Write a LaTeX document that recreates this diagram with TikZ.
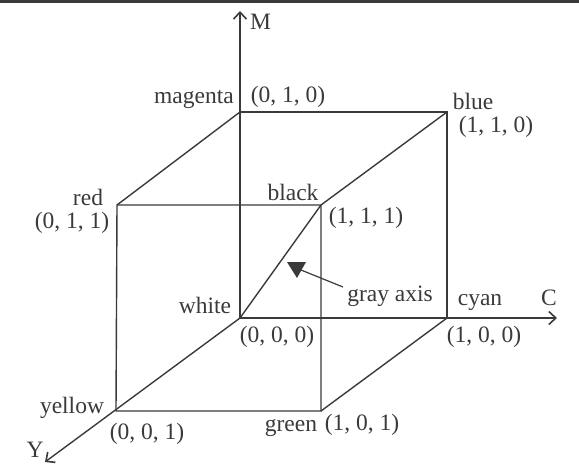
\documentclass[tikz,border=0pt]{standalone}
\usepackage{fontspec}
\setmainfont{Liberation Serif}
\usetikzlibrary{arrows.meta}
\definecolor{ink}{HTML}{3A3A3A}
\tikzset{
  edge/.style={draw=ink,line width=1.4pt},
  axis/.style={edge,-{Straight Barb[length=7pt,width=13pt,line width=1.6pt]}},
  lbl/.style={text=ink,inner sep=0pt,font=\fontsize{23.5}{26}\selectfont},
}
\begin{document}
\begin{tikzpicture}[x=1pt,y=-1pt]
\useasboundingbox (0,0) rectangle (579,469);
\fill[ink] (0,0) rectangle (579,2.5);
% vertices
\coordinate (O) at (240,318);
\coordinate (Mg) at (240,112);
\coordinate (Bl) at (447,112);
\coordinate (Cy) at (447,318);
\coordinate (Rd) at (117,205);
\coordinate (Bk) at (321,205);
\coordinate (Gr) at (321,411);
\coordinate (Ye) at (116,411);
\coordinate (Mt) at (240,11);
\coordinate (Ct) at (557,318);
\coordinate (Yt) at (45,462);
% axes
\draw[axis] (O) -- (Mt);
\draw[axis] (O) -- (Ct);
\draw[axis] (O) -- (Yt);
% cube
\draw[edge] (Mg) -- (Bl) -- (Cy);
\draw[edge] (Rd) -- (Bk) -- (Gr) -- (Ye) -- cycle;
\draw[edge] (Mg) -- (Rd);
\draw[edge] (Bl) -- (Bk);
\draw[edge] (Cy) -- (Gr);
\draw[edge] (O) -- (Bk);
% labels
\node[lbl,anchor=west] (lM) at (250,22) {M};
\node[lbl,anchor=east] (lmag) at (234,99) {magenta};
\node[lbl] (cmag) at (288,97) {(0, 1, 0)};
\node[lbl] (lblue) at (473,101) {blue};
\node[lbl] (cblue) at (496,127) {(1, 1, 0)};
\node[lbl] (lred) at (88,197) {red};
\node[lbl] (cred) at (72,223) {(0, 1, 1)};
\node[lbl] (lblack) at (293,192) {black};
\node[lbl] (cblack) at (366,218) {(1, 1, 1)};
\node[lbl] (lwhite) at (205,305) {white};
\node[lbl] (cwhite) at (277,337) {(0, 0, 0)};
\node[lbl] (lgray) at (390,296) {gray axis};
\node[lbl] (lcyan) at (480,302) {cyan};
\node[lbl] (lC) at (549,298) {C};
\node[lbl] (ccyan) at (484,337) {(1, 0, 0)};
\node[lbl] (lyellow) at (72,408) {yellow};
\node[lbl] (cyellow) at (147,434) {(0, 0, 1)};
\node[lbl] (lgreen) at (291,428) {green};
\node[lbl] (cgreen) at (362,425) {(1, 0, 1)};
\node[lbl] (lY) at (35,450) {Y};
% gray axis pointer
\coordinate (ptr) at (343,287);
\coordinate (tri) at (301,270);
\draw[edge,line width=1.2pt] (ptr) -- (tri);
\fill[ink] (287,262) -- (306,262) -- (297,278) -- cycle;
\end{tikzpicture}
\end{document}
